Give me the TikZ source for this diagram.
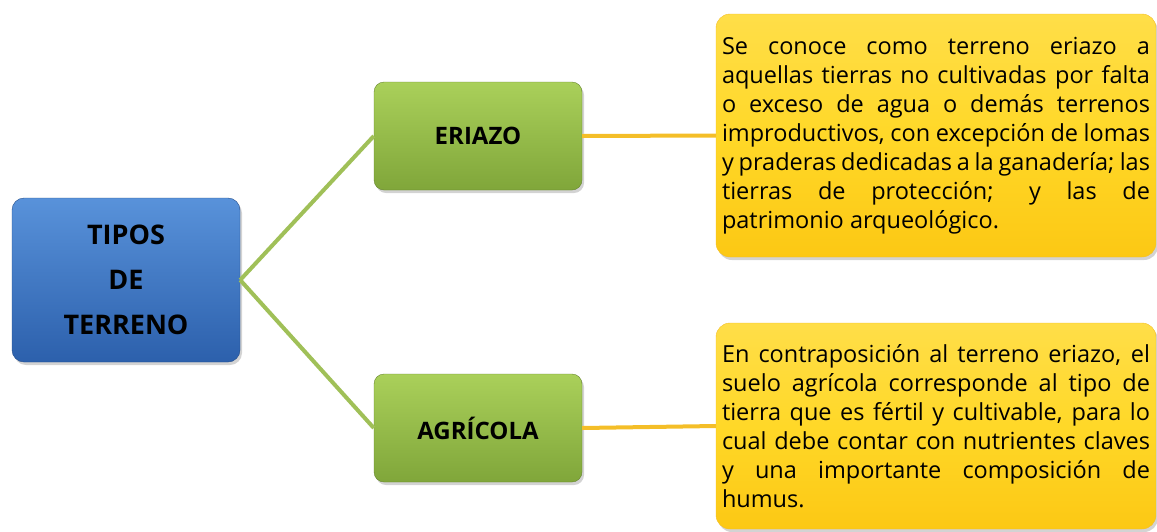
\documentclass[tikz,border=0pt]{standalone}
\usepackage{fontspec}
\setmainfont{Open Sans}
\usepackage{xcolor}
\definecolor{tblue}{RGB}{70,134,214}
\definecolor{tbluedk}{RGB}{44,96,172}
\definecolor{tgreen}{RGB}{170,208,90}
\definecolor{tgreendk}{RGB}{128,166,58}
\definecolor{tyellow}{RGB}{255,216,40}
\definecolor{tyellowdk}{RGB}{252,200,20}
\definecolor{tline}{RGB}{160,192,88}
\definecolor{torange}{RGB}{244,190,40}
\usetikzlibrary{positioning,shadows}

\begin{document}
\begin{tikzpicture}[x=1pt,y=-1pt,
  root/.style={draw=tbluedk!80!black,rounded corners=12pt,top color=tblue!90!white,bottom color=tbluedk,
    minimum width=228pt,minimum height=164pt,align=center,font=\fontsize{27}{45}\selectfont\bfseries,
    drop shadow={shadow xshift=2pt,shadow yshift=-3pt,opacity=0.35}},
  kind/.style={draw=tgreendk!80!black,rounded corners=10pt,top color=tgreen,bottom color=tgreendk,
    minimum width=208pt,minimum height=108pt,align=center,font=\fontsize{24}{30}\selectfont\bfseries,
    drop shadow={shadow xshift=2pt,shadow yshift=-3pt,opacity=0.35}},
  note/.style={draw=torange,rounded corners=14pt,top color=tyellow!85!white,bottom color=tyellowdk,
    middle color=tyellow,text width=428pt,inner xsep=6pt,inner ysep=0pt,align=justify,
    font=\fontsize{23.5}{29}\selectfont,
    drop shadow={shadow xshift=2pt,shadow yshift=-3pt,opacity=0.35}},
  branch/.style={tline,line width=4pt},
  link/.style={torange,line width=4pt}]
  \useasboundingbox (0,0) rectangle (1157,531);
  % main box
  \node[root] (tipos) at (126,280) {TIPOS\\DE\\TERRENO};
  % kinds
  \node[kind] (eriazo) at (478,136) {ERIAZO};
  \node[kind] (agricola) at (478,428) {AGRÍCOLA};
  % notes
  \node[note,minimum height=243pt] (neriazo) at (936,135.5) {Se conoce como terreno eriazo a\linebreak
    aquellas tierras no cultivadas por falta\linebreak
    o exceso de agua o demás terrenos\linebreak
    improductivos, con excepción de lomas\linebreak
    y praderas dedicadas a la ganadería; las\linebreak
    tierras de protección; y las de\linebreak
    patrimonio arqueológico.};
  \node[note,minimum height=206pt] (nagricola) at (936,426) {En contraposición al terreno eriazo, el\linebreak
    suelo agrícola corresponde al tipo de\linebreak
    tierra que es fértil y cultivable, para lo\linebreak
    cual debe contar con nutrientes claves\linebreak
    y una importante composición de\linebreak
    humus.};
  % connectors
  \draw[branch] (tipos.east) -- (eriazo.west);
  \draw[branch] (tipos.east) -- (agricola.west);
  \draw[link] (eriazo.east) -- (neriazo.west);
  \draw[link] (agricola.east) -- (nagricola.west);
\end{tikzpicture}
\end{document}
